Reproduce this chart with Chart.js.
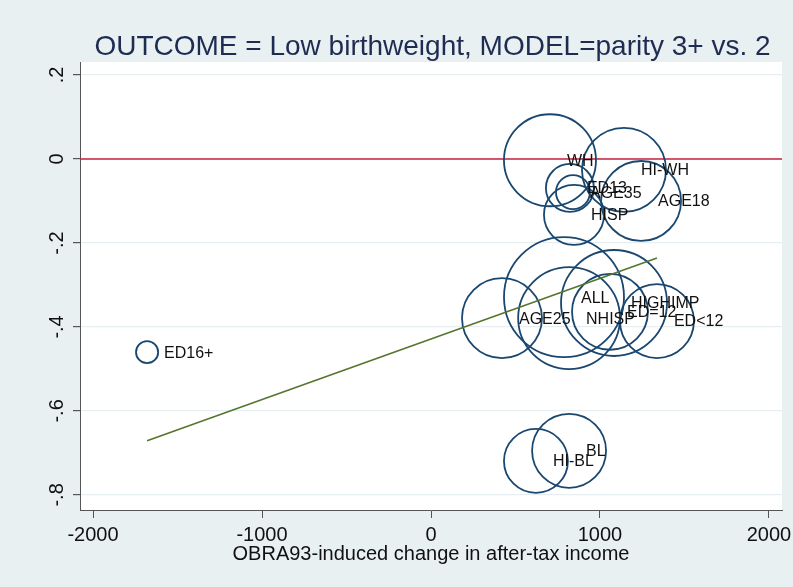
<!DOCTYPE html>
<html>
<head>
<meta charset="utf-8">
<script src="https://cdn.jsdelivr.net/npm/chart.js@4.4.1/dist/chart.umd.min.js"></script>
<style>
  html, body { margin: 0; padding: 0; background: #e8f0f2; }
  #wrap { width: 793px; height: 587px; }
</style>
</head>
<body>
<div id="wrap"><canvas id="c" width="793" height="587"></canvas></div>
<script>
// ---- data ----
const titleText = 'OUTCOME = Low birthweight, MODEL=parity 3+ vs. 2';
const xTitle = 'OBRA93-induced change in after-tax income';
const groups  = ['ED16+','WH','HI-WH','AGE18','ED13','AGE35','HISP','AGE25','ALL','NHISP','HIGHIMP','ED=12','ED<12','BL','HI-BL'];
const incomeChange = [-1680, 704, 1142, 1243, 822, 840, 846, 420, 787, 817, 1083, 1059, 1337, 817, 621];
const effect       = [-0.46, -0.003, -0.026, -0.10, -0.069, -0.079, -0.133, -0.379, -0.329, -0.379, -0.343, -0.364, -0.386, -0.695, -0.719];
const weights      = [3.4, 58.8, 49, 44.4, 16, 8, 25, 44.4, 100, 72, 78, 40, 38, 38, 28.4];
const fitX = [-1680, 1337];
const fitY = [-0.671, -0.236];
const xTicks = [-2000, -1000, 0, 1000, 2000];
const yTicks = [0.2, 0, -0.2, -0.4, -0.6, -0.8];
const yTickLabels = ['.2', '0', '-.2', '-.4', '-.6', '-.8'];

const X_MIN = -2077, X_MAX = 2077, Y_MIN = -0.836, Y_MAX = 0.231;
const FONT = '"Liberation Sans", Arial, Helvetica, sans-serif';
const MAX_R = 60;

const bubbleData = groups.map((g, i) => ({ x: incomeChange[i], y: effect[i], r: MAX_R * Math.sqrt(weights[i] / 100) }));
const fitData = fitX.map((x, i) => ({ x: x, y: fitY[i] }));
const zeroData = [{ x: X_MIN, y: 0 }, { x: X_MAX, y: 0 }];

const bgPlugin = {
  id: 'bg',
  beforeDraw(chart) {
    const { ctx, chartArea: a } = chart;
    ctx.save();
    ctx.fillStyle = '#e8f0f2';
    ctx.fillRect(0, 0, chart.width, chart.height);
    ctx.fillStyle = '#ffffff';
    ctx.fillRect(a.left, a.top, a.right - a.left, a.bottom - a.top);
    ctx.restore();
  }
};

const textPlugin = {
  id: 'texts',
  afterDatasetsDraw(chart) {
    const { ctx } = chart;
    const xs = chart.scales.x, ys = chart.scales.y;
    ctx.save();
    ctx.fillStyle = '#111111';
    ctx.font = '16px ' + FONT;
    ctx.textAlign = 'left';
    ctx.textBaseline = 'middle';
    groups.forEach((g, i) => {
      const px = xs.getPixelForValue(incomeChange[i]);
      const py = ys.getPixelForValue(effect[i]);
      ctx.fillText(g, px + 17, py + 1);
    });
    ctx.restore();
  },
  afterDraw(chart) {
    const { ctx } = chart;
    const xs = chart.scales.x, ys = chart.scales.y;
    ctx.save();
    ctx.fillStyle = '#111111';
    ctx.font = '20px ' + FONT;
    ctx.textAlign = 'center';
    ctx.textBaseline = 'middle';
    yTicks.forEach((v, i) => {
      const py = ys.getPixelForValue(v);
      ctx.save();
      ctx.translate(57, py);
      ctx.rotate(-Math.PI / 2);
      ctx.fillText(yTickLabels[i], 0, 0);
      ctx.restore();
    });
    ctx.fillStyle = '#1f2c52';
    ctx.font = '28px ' + FONT;
    ctx.textAlign = 'center';
    ctx.textBaseline = 'alphabetic';
    ctx.fillText(titleText, 432.5, 55);
    ctx.fillStyle = '#111111';
    ctx.font = '20px ' + FONT;
    ctx.fillText(xTitle, xs.getPixelForValue(0), 560);
    ctx.restore();
  }
};

new Chart(document.getElementById('c'), {
  type: 'bubble',
  data: {
    datasets: [
      {
        type: 'line', data: zeroData, borderColor: '#cc1f3f', borderWidth: 1.5,
        pointRadius: 0, fill: false, order: 3
      },
      {
        type: 'bubble', data: bubbleData, backgroundColor: 'rgba(0,0,0,0)',
        borderColor: '#1a476f', borderWidth: 1.8, hoverRadius: 0, order: 2
      },
      {
        type: 'line', data: fitData, borderColor: '#55752f', borderWidth: 1.6,
        pointRadius: 0, fill: false, order: 1
      }
    ]
  },
  options: {
    responsive: false,
    animation: false,
    events: [],
    layout: { autoPadding: false, padding: { top: 62, right: 11, left: 0, bottom: 0 } },
    plugins: { legend: { display: false }, tooltip: { enabled: false }, title: { display: false } },
    scales: {
      x: {
        type: 'linear', min: X_MIN, max: X_MAX,
        afterBuildTicks: s => { s.ticks = xTicks.map(v => ({ value: v })); },
        afterFit: s => { s.height = 77; s.paddingLeft = 0; s.paddingRight = 0; },
        grid: { drawOnChartArea: false, drawTicks: true, tickLength: 8, tickColor: '#555555', color: '#555555' },
        border: { display: true, color: '#555555', width: 1 },
        ticks: { color: '#111111', font: { family: FONT, size: 20 }, padding: 5, maxRotation: 0, autoSkip: false,
                 callback: v => String(v) }
      },
      y: {
        type: 'linear', min: Y_MIN, max: Y_MAX,
        afterBuildTicks: s => { s.ticks = yTicks.map(v => ({ value: v })); },
        afterFit: s => { s.width = 80; s.paddingTop = 0; s.paddingBottom = 0; },
        grid: { drawOnChartArea: true, color: '#e6eef1', lineWidth: 1.2, drawTicks: true, tickLength: 7, tickColor: '#555555' },
        border: { display: true, color: '#555555', width: 1 },
        ticks: { display: false }
      }
    }
  },
  plugins: [bgPlugin, textPlugin]
});
</script>
</body>
</html>
